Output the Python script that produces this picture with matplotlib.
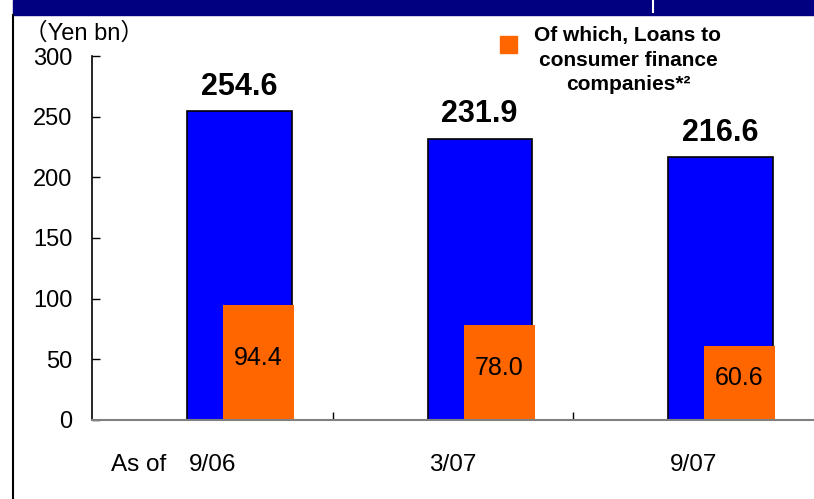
import numpy as np
import matplotlib
matplotlib.use('Agg')
import matplotlib.pyplot as plt
from matplotlib.patches import Rectangle
from matplotlib.lines import Line2D

plt.rcParams['font.family'] = ['Liberation Sans', 'Noto Sans CJK JP', 'DejaVu Sans']

periods = ['9/06', '3/07', '9/07']
total_loans = [254.6, 231.9, 216.6]
consumer_finance = [94.4, 78.0, 60.6]
yticks = [0, 50, 100, 150, 200, 250, 300]

BLUE = '#0000FF'
ORANGE = '#FF6600'
NAVY = '#000080'

fig = plt.figure(figsize=(8.14, 4.99), dpi=100)

# header band and frame line
fig.patches.append(Rectangle((13 / 814, 1 - 15 / 499), 1, 15 / 499,
                             transform=fig.transFigure, color=NAVY, zorder=0))
fig.lines.append(Line2D([653 / 814, 653 / 814], [1 - 12 / 499, 1],
                        transform=fig.transFigure, color='white', lw=1.5))
fig.lines.append(Line2D([13 / 814, 13 / 814], [0, 1 - 15 / 499],
                        transform=fig.transFigure, color='black', lw=1.5))

ax = fig.add_axes([92 / 814, 79 / 499, 1 - 92 / 814, 364 / 499])

x = np.arange(len(periods))
ax.bar(x - 0.105, total_loans, width=0.435, align='edge', color=BLUE,
       edgecolor='black', linewidth=1.2, zorder=2)
ax.bar(x + 0.045, consumer_finance, width=0.295, align='edge', color=ORANGE,
       linewidth=0, zorder=3)

for xi, v in zip(x, total_loans):
    ax.text(xi + 0.11, v + 20, f'{v:.1f}', ha='center', va='center',
            fontsize=22, fontweight='bold')
for xi, v in zip(x, consumer_finance):
    ax.text(xi + 0.19, v / 2 + 4, f'{v:.1f}', ha='center', va='center',
            fontsize=18)

ax.set_xlim(-0.5, 2.5)
ax.set_ylim(0, 300)
ax.set_yticks(yticks)
ax.set_yticklabels([str(t) for t in yticks], fontsize=17)
ax.tick_params(axis='y', direction='in', length=6, width=1, pad=14)
ax.set_xticks([0.5, 1.5])
ax.set_xticklabels([])
ax.tick_params(axis='x', direction='in', length=6, width=1, color='black')

for s in ['top', 'right']:
    ax.spines[s].set_visible(False)
ax.spines['left'].set_linewidth(1.2)
ax.spines['bottom'].set_color('#808080')
ax.spines['bottom'].set_linewidth(1.5)
ax.spines['bottom'].set_zorder(4)

for xi, p in zip(x, periods):
    ax.text(xi, -37, p, ha='center', va='center', fontsize=17.5)
ax.text(-0.19, -37, 'As of', ha='right', va='center', fontsize=17.5)

fig.text(24 / 814, 1 - 33 / 499, '（Yen bn）', ha='left', va='center',
         fontsize=17)

# legend entry
fig.patches.append(Rectangle((500 / 814, 1 - 53 / 499), 17 / 814, 17 / 499,
                             transform=fig.transFigure, color=ORANGE))
fig.text(628 / 814, 1 - 60 / 499,
         'Of which, Loans to\nconsumer finance\ncompanies*\u00b2',
         ha='center', va='center', fontsize=15, fontweight='bold',
         linespacing=1.35)

fig.savefig('out.png', dpi=100)
